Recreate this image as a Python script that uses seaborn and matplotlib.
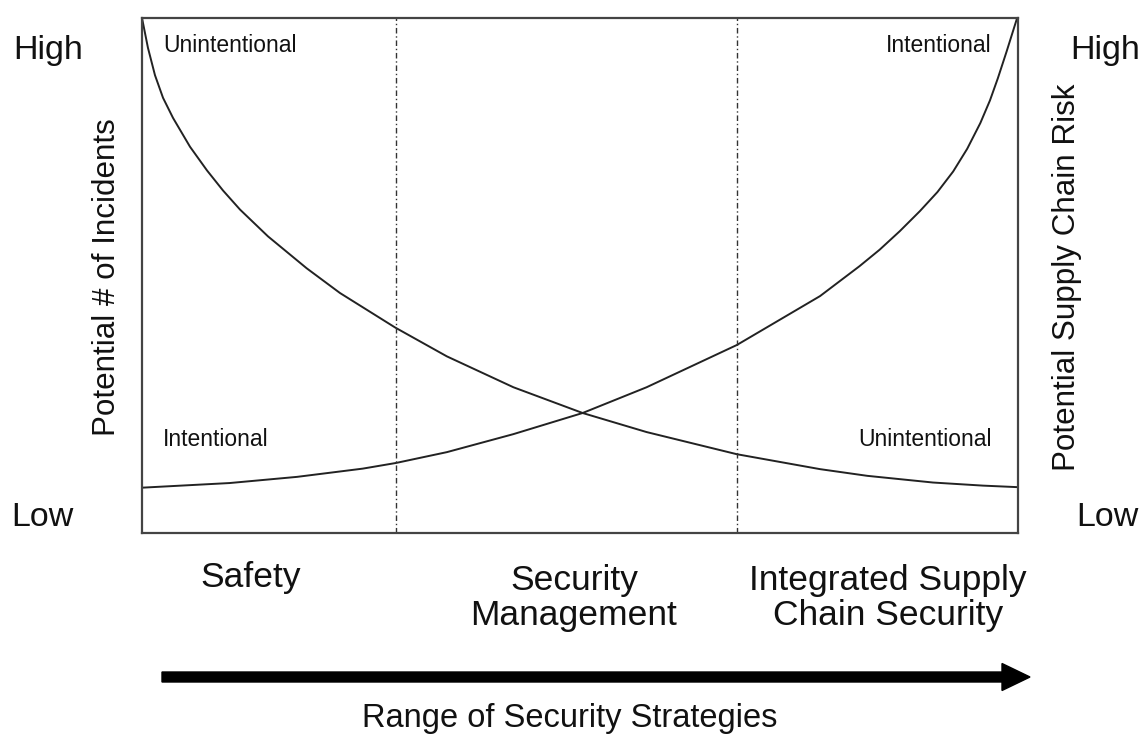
import matplotlib
matplotlib.use("Agg")
import matplotlib.pyplot as plt
from matplotlib.patches import FancyArrow
import pandas as pd
import seaborn as sns

# ---- data (0-100 relative scale) ----
x_unintentional = [0, 0.68, 1.48, 2.40, 3.54, 5.48, 7.42, 9.25, 11.19, 14.38, 18.8,
                   22.6, 28.9, 34.8, 42.4, 50.3, 57.6, 67.9, 77.4, 82.8, 90.3, 96.0, 100]
y_unintentional = [100, 94.2, 88.9, 84.5, 80.6, 75.0, 70.4, 66.5, 62.8, 57.6, 51.4,
                   46.6, 39.9, 34.3, 28.3, 23.3, 19.6, 15.3, 12.4, 11.1, 9.8, 9.2, 8.9]
x_intentional = [0, 10.0, 17.7, 25.2, 29.0, 34.8, 42.4, 50.3, 57.6, 67.9, 77.4, 81.9,
                 84.2, 86.5, 88.8, 90.8, 92.6, 94.2, 95.7, 96.8, 97.7, 98.7, 99.9]
y_intentional = [8.8, 9.7, 10.9, 12.5, 13.6, 15.7, 19.2, 23.3, 28.3, 36.5, 46.0, 51.8,
                 55.0, 58.6, 62.5, 66.2, 70.2, 74.6, 79.6, 84.0, 88.3, 93.5, 100]
boundaries = [29.0, 67.9]
categories = ["Safety", "Security\nManagement", "Integrated Supply\nChain Security"]
left_axis_label = "Potential # of Incidents"
right_axis_label = "Potential Supply Chain Risk"
x_axis_label = "Range of Security Strategies"
level_labels = ["High", "Low"]

sns.set_theme(style="white")
plt.rcParams['font.family'] = ['Liberation Sans', 'DejaVu Sans']

W, H = 1144, 740
fig = plt.figure(figsize=(W / 100, H / 100), dpi=100)
ax = fig.add_axes([142 / W, 1 - 533 / H, (1018 - 142) / W, (533 - 18) / H])

df = pd.concat([
    pd.DataFrame({"x": x_unintentional, "y": y_unintentional, "kind": "Unintentional"}),
    pd.DataFrame({"x": x_intentional, "y": y_intentional, "kind": "Intentional"}),
])
sns.lineplot(data=df, x="x", y="y", units="kind", estimator=None, color="#222222",
             linewidth=1.4, ax=ax, legend=False, sort=False)

for b in boundaries:
    ax.axvline(b, color="#333333", linewidth=1.0, linestyle=(0, (4, 2, 1, 2)))

ax.set_xlim(0, 100)
ax.set_ylim(0, 100)
ax.set_xticks([])
ax.set_yticks([])
ax.set_xlabel("")
ax.set_ylabel("")
for s in ax.spines.values():
    s.set_color("#444444")
    s.set_linewidth(1.6)

txt = "#111111"

def ftext(px, py, s, **kw):
    fig.text(px / W, 1 - py / H, s, color=txt, **kw)

# inner labels
ftext(163, 46, "Unintentional", fontsize=16.5, ha="left", va="center")
ftext(992, 46, "Intentional", fontsize=16.5, ha="right", va="center")
ftext(163, 439, "Intentional", fontsize=16.5, ha="left", va="center")
ftext(992, 439, "Unintentional", fontsize=16.5, ha="right", va="center")

# High / Low
ftext(48, 50, level_labels[0], fontsize=24.5, ha="center", va="center")
ftext(42, 517, level_labels[1], fontsize=24.5, ha="center", va="center")
ftext(1105, 50, level_labels[0], fontsize=24.5, ha="center", va="center")
ftext(1107, 517, level_labels[1], fontsize=24.5, ha="center", va="center")

# axis labels
ftext(107, 277, left_axis_label, fontsize=22.6, ha="center", va="center", rotation=90)
ftext(1067, 277, right_axis_label, fontsize=22.6, ha="center", va="center", rotation=90)

# category labels
ftext(251, 578, categories[0], fontsize=25.5, ha="center", va="center")
ftext(574, 598, categories[1], fontsize=25.5, ha="center", va="center",
      multialignment="center", linespacing=1.05)
ftext(888, 598, categories[2], fontsize=25.5, ha="center", va="center",
      multialignment="center", linespacing=1.05)

# arrow
y_arrow = (H - 677) / 100
fig.add_artist(FancyArrow(1.62, y_arrow, 10.30 - 1.62, 0, width=0.10,
                          head_width=0.27, head_length=0.28,
                          length_includes_head=True, color="black",
                          transform=fig.dpi_scale_trans))

ftext(570, 718, x_axis_label, fontsize=23.5, ha="center", va="center")

fig.savefig("out.png", dpi=100)
